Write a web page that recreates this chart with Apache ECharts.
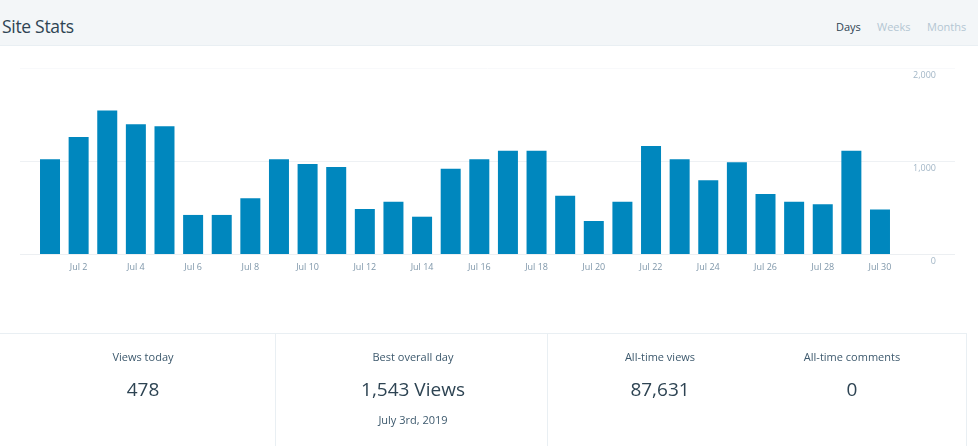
<!DOCTYPE html>
<html>
<head>
<meta charset="utf-8">
<script src="https://cdn.jsdelivr.net/npm/echarts@6/dist/echarts.min.js"></script>
<style>
  html, body { margin:0; padding:0; width:978px; height:446px; overflow:hidden; background:#fff; font-family:"Open Sans","Noto Sans",sans-serif; }
  #chart { position:absolute; left:0; top:0; width:978px; height:446px; }
  .hdr { position:absolute; left:0; top:0; width:978px; height:45px; background:#f3f6f8; border-bottom:1px solid #e9eff3; z-index:2; }
  .title { position:absolute; left:2px; top:14px; font-size:17.5px; color:#2e4453; letter-spacing:-0.3px; }
  .tab { position:absolute; top:19px; font-size:11px; color:#b4c6d3; }
  .box { position:absolute; left:0; top:333px; width:966px; height:130px; border-top:1px solid #e9eff3; border-right:1px solid #e9eff3; z-index:2; }
  .div { position:absolute; top:333px; width:1px; height:130px; background:#e9eff3; z-index:2; }
  .lbl { position:absolute; font-size:11px; color:#3d596d; transform:translateX(-50%); white-space:nowrap; z-index:3; }
  .val { position:absolute; font-size:19px; color:#2e4453; transform:translateX(-50%); white-space:nowrap; z-index:3; }
</style>
</head>
<body>
<div id="chart"></div>
<div class="hdr">
  <div class="title">Site Stats</div>
  <div class="tab" style="left:836px;color:#2e4453;">Days</div>
  <div class="tab" style="left:877px;">Weeks</div>
  <div class="tab" style="left:927px;">Months</div>
</div>
<div class="box"></div>
<div class="div" style="left:275px;"></div>
<div class="div" style="left:547px;"></div>

<div class="lbl" style="left:143px;top:349px;">Views today</div>
<div class="val" style="left:143px;top:376px;">478</div>
<div class="lbl" style="left:413px;top:349px;">Best overall day</div>
<div class="val" style="left:413px;top:376px;">1,543 Views</div>
<div class="lbl" style="left:413px;top:412px;">July 3rd, 2019</div>
<div class="lbl" style="left:660px;top:349px;">All-time views</div>
<div class="val" style="left:660px;top:376px;">87,631</div>
<div class="lbl" style="left:852px;top:349px;">All-time comments</div>
<div class="val" style="left:852px;top:376px;">0</div>

<script>
const categories = ["Jul 1","Jul 2","Jul 3","Jul 4","Jul 5","Jul 6","Jul 7","Jul 8","Jul 9","Jul 10",
  "Jul 11","Jul 12","Jul 13","Jul 14","Jul 15","Jul 16","Jul 17","Jul 18","Jul 19","Jul 20",
  "Jul 21","Jul 22","Jul 23","Jul 24","Jul 25","Jul 26","Jul 27","Jul 28","Jul 29","Jul 30"];
const views = [1018, 1258, 1543, 1395, 1375, 420, 420, 600, 1018, 968,
  935, 484, 562, 401, 917, 1018, 1111, 1111, 627, 355,
  562, 1161, 1018, 792, 986, 645, 562, 534, 1111, 478];
const yTicks = [0, 1000, 2000];

const chart = echarts.init(document.getElementById('chart'));
chart.setOption({
  animation: false,
  grid: [
    { left: 35.7, right: 978 - 894.3, top: 68, bottom: 446 - 254 },
    { left: 20, right: 23, top: 68, bottom: 446 - 254 }
  ],
  xAxis: [
    {
      type: 'category', gridIndex: 0, data: categories,
      axisLine: { show: false }, axisTick: { show: false },
      axisLabel: {
        interval: function (i) { return i % 2 === 1; },
        color: '#7f97aa', fontSize: 9, margin: 9,
        fontFamily: 'Open Sans'
      }
    },
    { type: 'value', gridIndex: 1, show: false, min: 0, max: 1 }
  ],
  yAxis: [
    { type: 'value', gridIndex: 0, min: 0, max: 2000, interval: 1000, show: false },
    {
      type: 'value', gridIndex: 1, position: 'right', min: yTicks[0], max: yTicks[2], interval: 1000,
      axisLine: { show: false }, axisTick: { show: false },
      splitLine: { show: true, lineStyle: { color: ['#eceff2', '#eef1f4', '#f8f9fb'], width: 1 } },
      axisLabel: {
        inside: true, margin: 19, color: '#a2b6c6', fontSize: 9, fontFamily: 'Open Sans',
        verticalAlign: 'top', padding: [3, 0, 0, 0],
        formatter: function (v) { return v.toLocaleString('en-US'); }
      }
    }
  ],
  series: [
    {
      type: 'bar', xAxisIndex: 0, yAxisIndex: 0, data: views, barWidth: 20,
      itemStyle: { color: '#0087be' }, z: 3
    }
  ]
});
</script>
</body>
</html>
